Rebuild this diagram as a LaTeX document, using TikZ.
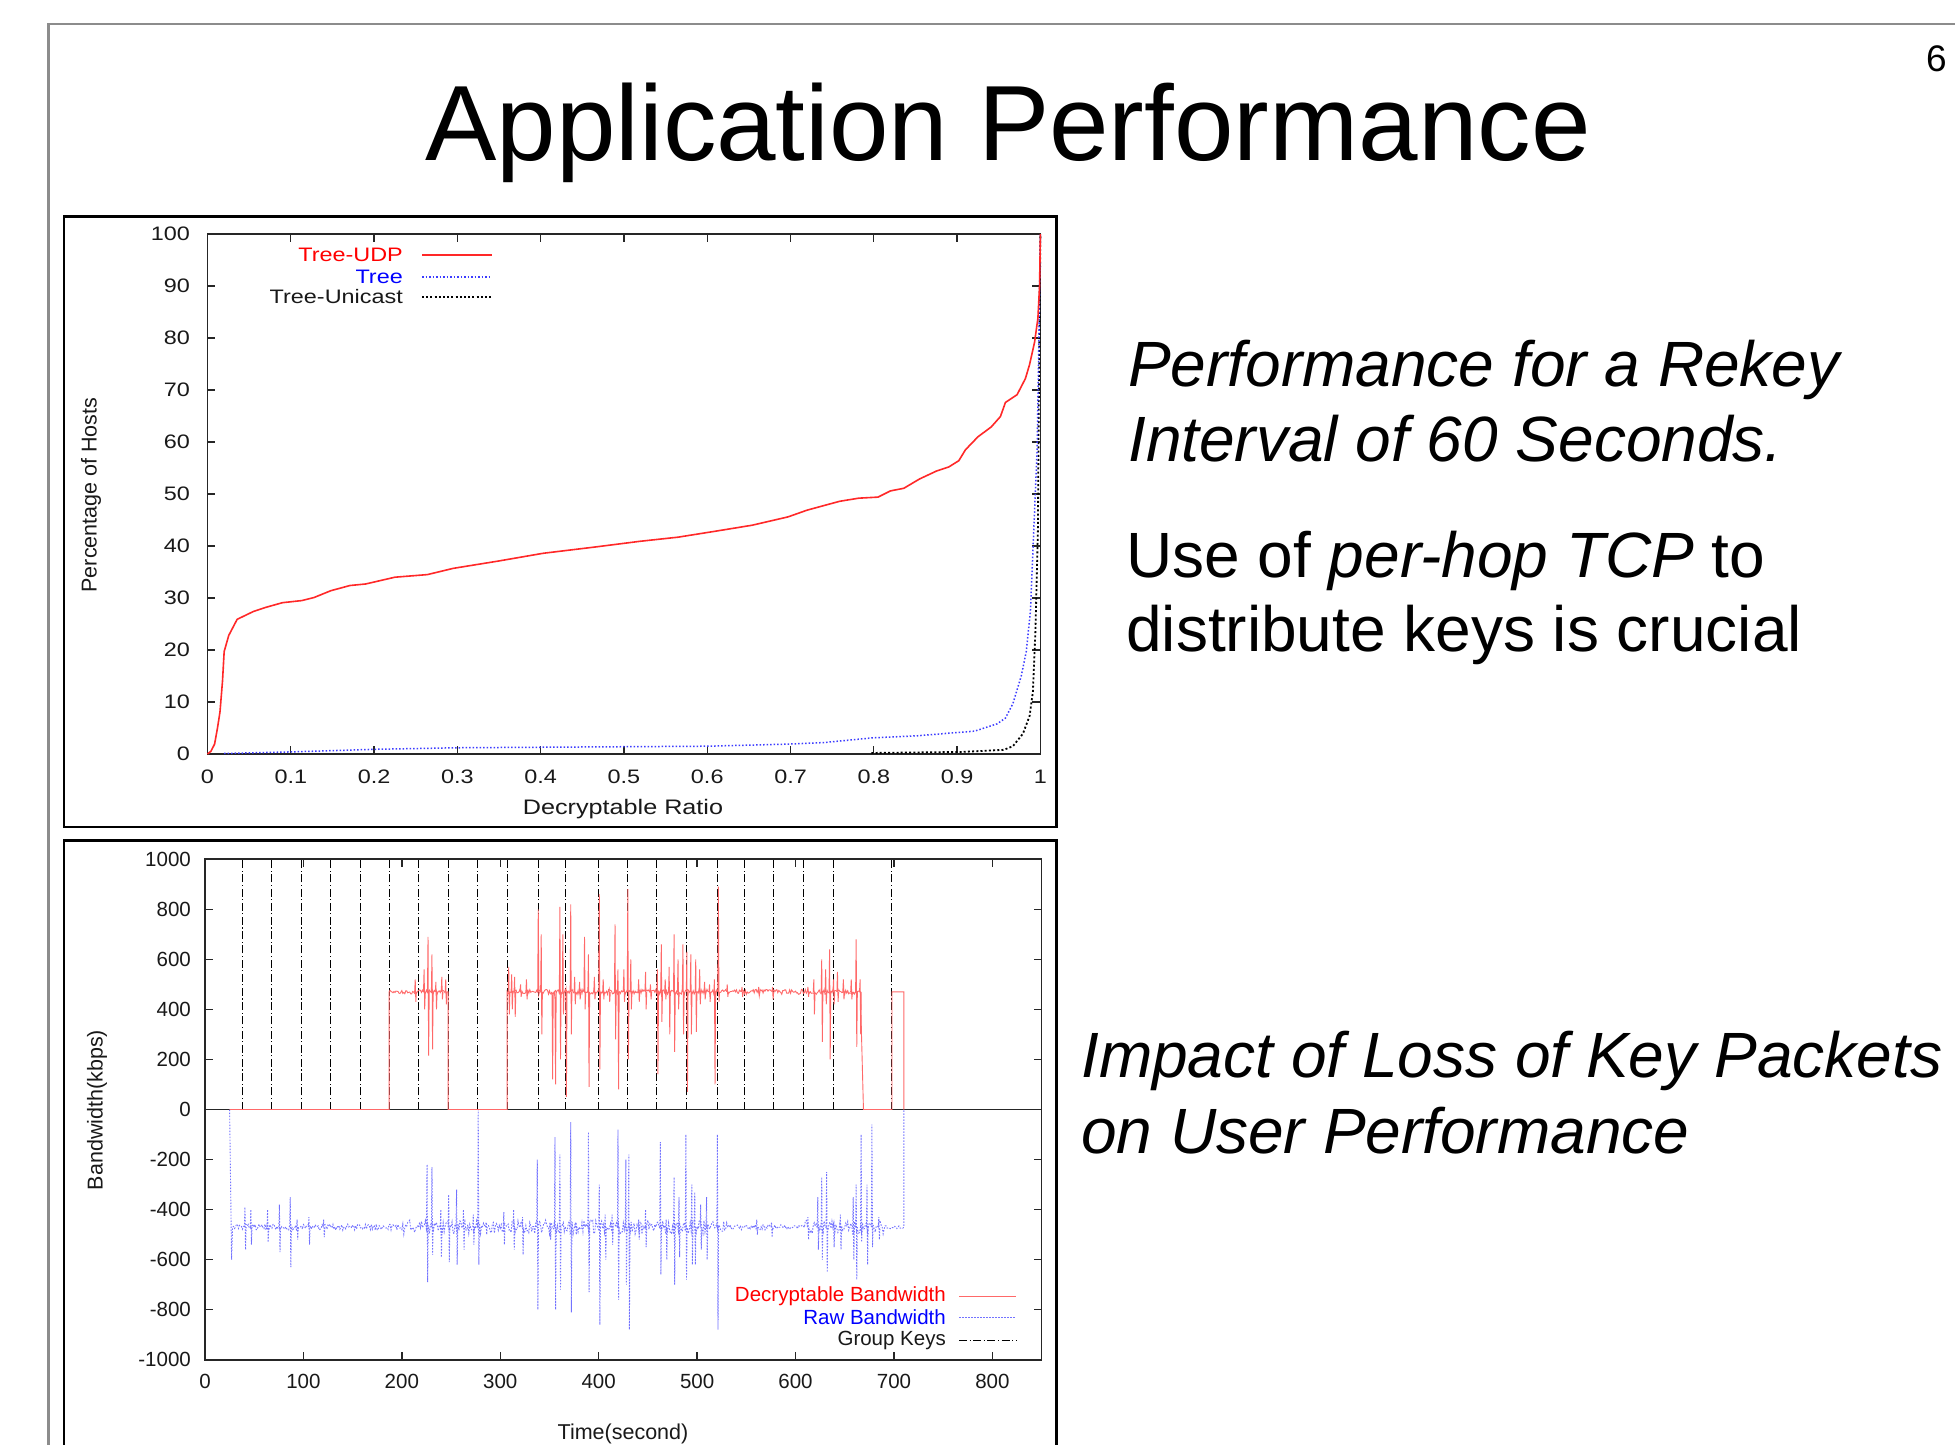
\documentclass[tikz,border=0pt]{standalone}
\usepackage{fontspec}
\setmainfont{Liberation Sans}
\newfontfamily\plotfont{Liberation Sans}[FakeStretch=1.2]
\definecolor{slidegray}{RGB}{140,140,140}
\definecolor{cudp}{RGB}{255,40,40}
\definecolor{ctree}{RGB}{60,60,255}
\definecolor{cdec}{RGB}{255,105,105}
\definecolor{craw}{RGB}{115,115,255}
\definecolor{txtred}{RGB}{255,0,0}
\definecolor{txtblue}{RGB}{0,0,255}
\definecolor{axisgray}{RGB}{25,25,25}
\begin{document}
\begin{tikzpicture}[x=1pt,y=-1pt,
  slidetitle/.style={font=\fontsize{107}{120}\selectfont, inner sep=0pt, anchor=base},
  bodytext/.style={font=\fontsize{64}{72}\selectfont, inner sep=0pt, anchor=base west},
  tlab/.style={font=\plotfont\fontsize{19.5}{22}\selectfont, inner sep=0pt, text=axisgray},
  blab/.style={font=\fontsize{20.5}{22}\selectfont, inner sep=0pt, text=axisgray},
  axlab/.style={font=\fontsize{21.5}{24}\selectfont, inner sep=0pt, text=axisgray},
  plotframe/.style={line width=2.2pt, draw=black},
  axisbox/.style={line width=1.6pt, draw=black!85},
  tickline/.style={line width=1.3pt, draw=black!85},
  udpline/.style={line width=1.6pt, draw=cudp},
  treeline/.style={line width=1.5pt, draw=ctree, dash pattern=on 1.5pt off 2pt},
  uniline/.style={line width=1.8pt, draw=black, dash pattern=on 2pt off 2.2pt},
  decline/.style={line width=0.9pt, draw=cdec},
  rawline/.style={line width=0.9pt, draw=craw, dash pattern=on 1.5pt off 1.5pt},
  keyline/.style={line width=1pt, draw=black, dash pattern=on 8pt off 2.5pt on 1.2pt off 2.5pt}
]
\useasboundingbox (0,0) rectangle (1955,1445);
\fill[white] (0,0) rectangle (1955,1445);

% slide border
\draw[slidegray, line width=2.2pt] (48.5,1446) -- (48.5,24) -- (1956,24);

% title and page number
\node[slidetitle] (title) at (1008,160) {Application Performance};
\node[anchor=base east, inner sep=0pt, font=\fontsize{37}{40}\selectfont] (pgnum) at (1947,72) {6};

% right-hand texts
\node[bodytext] (t1) at (1128,386.5) {\itshape Performance for a Rekey};
\node[bodytext] (t2) at (1128,461) {\itshape Interval of 60 Seconds.};
\node[bodytext] (t3) at (1126,577) {Use of \textit{per-hop TCP} to};
\node[bodytext] (t4) at (1126,651) {distribute keys is crucial};
\node[bodytext] (t5) at (1081,1077) {\itshape Impact of Loss of Key Packets};
\node[bodytext] (t6) at (1081,1153) {\itshape on User Performance};

% ---------------- top plot ----------------
\draw[plotframe] (64,216.5) rectangle (1056.5,827);
\begin{scope}[shift={(207.5,754)}, x=832.9pt, y=5.2pt]
  \draw[axisbox] (0,0) rectangle (1,100);
  \foreach \v/\l [count=\i] in {0/0,0.1/0.1,0.2/0.2,0.3/0.3,0.4/0.4,0.5/0.5,0.6/0.6,0.7/0.7,0.8/0.8,0.9/0.9,1/1} {
    \draw[tickline] (\v,0) -- ++(0,1.6);
    \draw[tickline] (\v,100) -- ++(0,-1.6);
    \node[tlab] (tx\i) at (\v,-4.45) {\l};
  }
  \foreach \v [count=\i] in {0,10,...,100} {
    \draw[tickline] (0,\v) -- ++(0.0096,0);
    \draw[tickline] (1,\v) -- ++(-0.0096,0);
    \node[tlab, anchor=east] (ty\i) at (-0.021,\v) {\v};
  }
  % Tree-Unicast
  \draw[uniline] (0.797,0.2) -- (0.906,0.4) -- (0.956,0.8) -- (0.967,1.5) -- (0.979,3.9) -- (0.987,7.3) -- (0.991,12) -- (0.994,23.6) -- (0.997,42.9) -- (0.998,66) -- (1,100);
  % Tree
  \draw[treeline] (0.02,0.1) -- (0.1,0.4) -- (0.2,0.9) -- (0.3,1.2) -- (0.4,1.3) -- (0.5,1.4) -- (0.6,1.5) -- (0.697,1.9) -- (0.74,2.2) -- (0.798,3.1) -- (0.852,3.5) -- (0.89,4) -- (0.921,4.4) -- (0.948,5.8) -- (0.958,6.9) -- (0.967,9.7) -- (0.977,15) -- (0.983,19.7) -- (0.988,27.4) -- (0.992,42.9) -- (0.996,58.3) -- (0.998,77.6) -- (1,100);
  % Tree-UDP
  \draw[udpline, line join=round] (0,0) -- (0.004,0.5) -- (0.0085,1.9) -- (0.012,5) -- (0.015,8.1) -- (0.018,14) -- (0.02,19.7) -- (0.0255,22.8) -- (0.0356,25.9) -- (0.055,27.4) -- (0.07,28.2) -- (0.09,29.1) -- (0.113,29.5) -- (0.128,30.1) -- (0.148,31.4) -- (0.171,32.4) -- (0.19,32.7) -- (0.225,34) -- (0.264,34.5) -- (0.295,35.7) -- (0.349,37.1) -- (0.403,38.6) -- (0.465,39.8) -- (0.519,40.9) -- (0.565,41.7) -- (0.612,42.9) -- (0.654,44) -- (0.697,45.6) -- (0.72,46.9) -- (0.759,48.6) -- (0.782,49.2) -- (0.805,49.4) -- (0.82,50.6) -- (0.836,51.1) -- (0.855,52.9) -- (0.875,54.4) -- (0.89,55.2) -- (0.902,56.4) -- (0.91,58.5) -- (0.925,61) -- (0.941,62.9) -- (0.952,64.9) -- (0.958,67.6) -- (0.972,69.1) -- (0.982,72.2) -- (0.987,74.9) -- (0.993,79.2) -- (0.997,83.8) -- (0.999,90) -- (1,100);
\end{scope}
% top legend
\node[tlab, anchor=east, text=txtred] (lg1) at (403,255) {Tree-UDP};
\node[tlab, anchor=east, text=txtblue] (lg2) at (403,277) {Tree};
\node[tlab, anchor=east] (lg3) at (403,297) {Tree-Unicast};
\coordinate (lg1a) at (422,255); \coordinate (lg1b) at (492,255);
\coordinate (lg2a) at (422,277); \coordinate (lg2b) at (492,277);
\coordinate (lg3a) at (422,297); \coordinate (lg3b) at (492,297);
\draw[udpline] (lg1a) -- (lg1b);
\draw[treeline] (lg2a) -- (lg2b);
\draw[uniline] (lg3a) -- (lg3b);
\node[font=\plotfont\fontsize{21}{24}\selectfont, inner sep=0pt, text=axisgray] (xlab1) at (623,809) {Decryptable Ratio};
\node[axlab, rotate=90] (ylab1) at (91,495) {Percentage of Hosts};

% ---------------- bottom plot ----------------
\draw[plotframe] (64,1447) -- (64,840.5) -- (1056.5,840.5) -- (1056.5,1447);
\begin{scope}[shift={(205,1109.5)}, x=0.98424pt, y=0.2503pt]
  \draw[axisbox] (0,-1000) rectangle (850,1000);
  \foreach \v [count=\i] in {0,100,...,800} {
    \draw[tickline] (\v,-1000) -- ++(0,32);
    \draw[tickline] (\v,1000) -- ++(0,-32);
    \node[blab] (bx\i) at (\v,-1085) {\v};
  }
  \foreach \v [count=\i] in {-1000,-800,...,1000} {
    \draw[tickline] (0,\v) -- ++(8.2,0);
    \draw[tickline] (850,\v) -- ++(-8.2,0);
    \node[blab, anchor=east] (by\i) at (-14.2,\v) {\v};
  }
  % group key lines
  \foreach \t in {38,67.4,98.2,127.7,157.8,187.2,217.3,247.5,276.9,307,338.5,366.6,400,428.8,458.3,489,521.1,548,578,608.2,638.3,697.9} {
    \draw[keyline] (\t,0) -- (\t,1000);
  }
  % zero axis
  \draw[line width=1.6pt, black!85] (0,0) -- (850,0);
  \pgfmathsetseed{7}
  % raw bandwidth (shown negative)
  \draw[rawline] (25,0) -- (26,-300) -- (27,-600) -- (28,-470)
    \foreach \t in {29,...,199} { -- (\t,{-470+12*rand}) }
    \foreach \t in {200,...,530} { -- (\t,{-470+28*rand}) }
    \foreach \t in {531,...,609} { -- (\t,{-470+10*rand}) }
    \foreach \t in {610,...,690} { -- (\t,{-470+28*rand}) }
    \foreach \t in {691,...,709} { -- (\t,{-470+6*rand}) }
    -- (710,-470) -- (710,0);
  \foreach \t/\h/\l in {40/-390/-560, 46/-400/-540, 63/-400/-530, 75/-380/-570, 86/-350/-630, 93/-440/-520, 105/-430/-540, 120/-440/-510, 225/-220/-690, 230/-230/-580, 239/-400/-590, 247/-340/-610, 255/-320/-620, 262/-400/-560, 272/-420/-540, 277/0/-620, 285/-450/-500, 303/-410/-540, 313/-400/-560, 322/-430/-580, 337/-200/-800, 350/-450/-520, 355/-110/-800, 360/-180/-720, 371/-50/-810, 376/-450/-500, 389/-90/-730, 400/-300/-860, 406/-420/-600, 413/-420/-540, 419/-80/-760, 427/-200/-700, 430/-180/-880, 440/-440/-520, 447/-400/-550, 462/-130/-660, 468/-440/-600, 476/-270/-700, 481/-350/-590, 488/-100/-680, 494/-300/-620, 497/-330/-620, 503/-380/-560, 509/-350/-600, 520/-100/-880, 560/-440/-500, 575/-450/-510, 612/-430/-520, 622/-350/-560, 626/-270/-600, 631/-250/-650, 638/-450/-550, 645/-420/-560, 658/-350/-600, 661/-300/-680, 666/-100/-530, 672/-300/-620, 677/-60/-550, 684/-430/-520} {
    \draw[rawline] (\t,-470) -- (\t+0.6,\h) -- (\t+1.2,\l) -- (\t+1.8,-470);
  }
  % decryptable bandwidth
  \draw[decline] (25,0) -- (187,0) -- (187,470)
    \foreach \t in {188,...,246} { -- (\t,{470+8*rand}) }
    -- (247,470) -- (247,0) -- (307,0) -- (307,470)
    \foreach \t in {308,...,665} { -- (\t,{470+10*rand}) }
    -- (666,470) -- (667,300) -- (669,0) -- (698,0) -- (698,470) -- (710,470) -- (710,0);
  \foreach \t/\h/\l in {213/520/430, 222/560/400, 226/690/215, 230/620/240, 234/510/400, 240/530/440, 244/520/420, 308/570/380, 311/540/400, 314/530/370, 320/500/450, 326/520/440, 338/800/460, 341/700/300, 352/460/120, 355/440/100, 360/810/200, 363/700/380, 366/480/50, 371/820/300, 375/530/420, 380/510/440, 385/690/400, 389/620/90, 395/530/440, 400/860/160, 404/520/440, 410/480/430, 416/740/280, 419/560/80, 425/560/430, 429/880/200, 432/600/400, 440/520/430, 447/550/400, 452/500/440, 459/560/140, 463/660/350, 467/520/440, 471/570/300, 476/700/230, 480/600/400, 485/660/300, 489/630/70, 493/620/300, 498/600/310, 502/560/420, 507/510/440, 512/500/430, 517/520/100, 521/890/430, 530/500/450, 545/490/450, 562/490/455, 576/490/440, 612/490/450, 618/520/380, 626/600/270, 630/560/420, 634/640/200, 638/520/420, 642/550/430, 648/520/440, 656/520/440, 661/680/250, 665/520/300} {
    \draw[decline] (\t,470) -- (\t+0.6,\h) -- (\t+1.2,\l) -- (\t+1.8,470);
  }
\end{scope}
% bottom legend
\node[blab, anchor=east, text=txtred] (lb1) at (946,1296) {Decryptable Bandwidth};
\node[blab, anchor=east, text=txtblue] (lb2) at (946,1317.5) {Raw Bandwidth};
\node[blab, anchor=east] (lb3) at (946,1340) {Group Keys};
\coordinate (lb1a) at (959,1296); \coordinate (lb1b) at (1016,1296);
\coordinate (lb2a) at (959,1317.5); \coordinate (lb2b) at (1016,1317.5);
\coordinate (lb3a) at (959,1340); \coordinate (lb3b) at (1016,1340);
\draw[decline] (lb1a) -- (lb1b);
\draw[rawline] (lb2a) -- (lb2b);
\draw[keyline] (lb3a) -- (lb3b);
\node[axlab] (xlab2) at (623,1434) {Time(second)};
\node[axlab, rotate=90] (ylab2) at (97,1110) {Bandwidth(kbps)};
\end{tikzpicture}
\end{document}
